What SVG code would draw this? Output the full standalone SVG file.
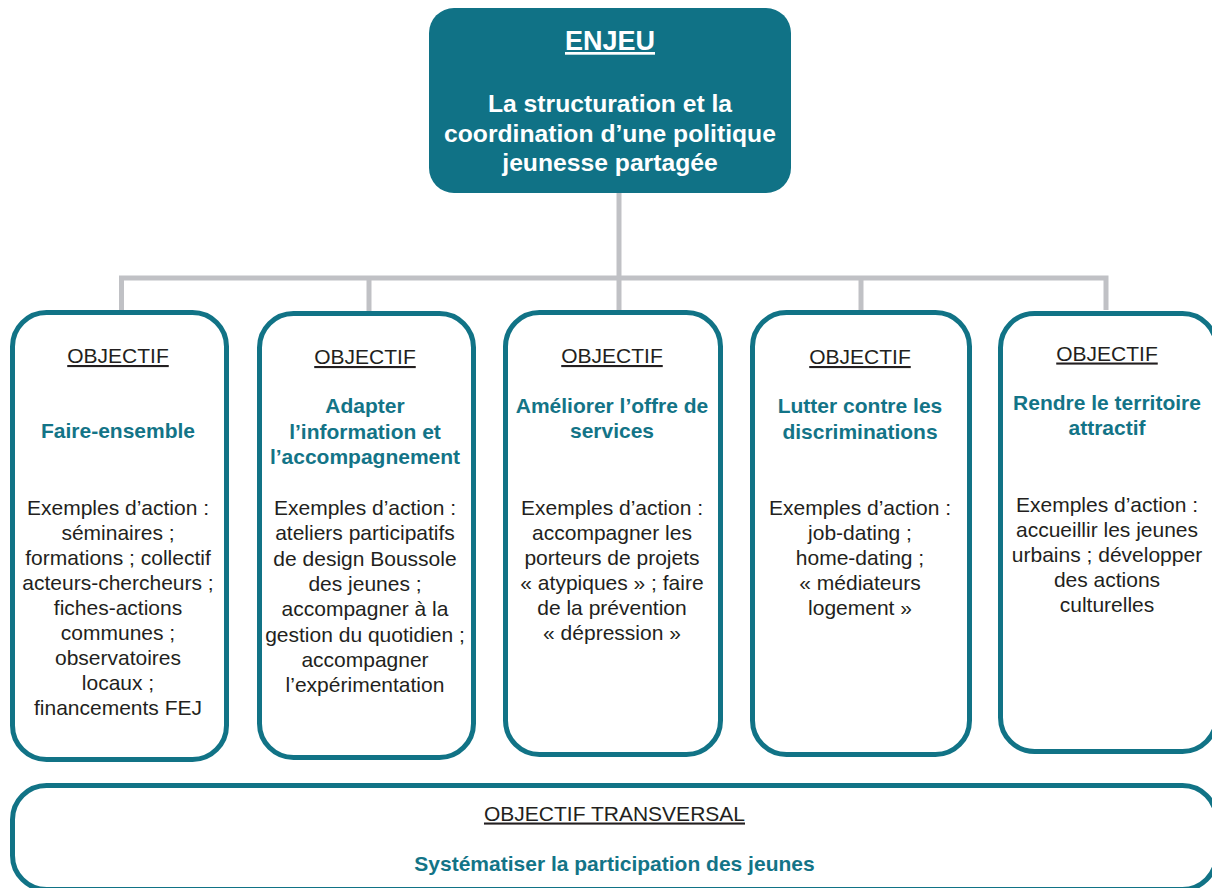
<svg xmlns="http://www.w3.org/2000/svg" width="1212" height="888" viewBox="0 0 1212 888">
<style>
.box{fill:#ffffff;stroke:#117386;stroke-width:5}
.conn{fill:none;stroke:#c0c1c5;stroke-width:5}
text{font-family:"Liberation Sans",Arial,sans-serif;text-anchor:middle}
.lbl{font-size:21px;fill:#231f20;text-decoration:underline}
.ttl{font-size:21px;font-weight:bold;fill:#137487}
.body{font-size:21px;fill:#231f20}
.top{font-weight:bold;fill:#ffffff}
</style>
<rect width="1212" height="888" fill="#ffffff"/>
<g id="connectors">
<path class="conn" d="M619 193 V278"/>
<path class="conn" d="M121.5 310 V278 H1106 V310"/>
<path class="conn" d="M369 311 V278"/>
<path class="conn" d="M619 310 V278"/>
<path class="conn" d="M861 310 V278"/>
</g>
<g id="enjeu">
<rect x="429" y="8" width="362" height="185" rx="25" fill="#107286"/>
<text class="top" x="610" y="50" font-size="27" text-decoration="underline">ENJEU</text>
<text class="top" font-size="24.7"><tspan x="610" y="112">La structuration et la</tspan><tspan x="610" y="141.5">coordination d’une politique</tspan><tspan x="610" y="171">jeunesse partagée</tspan></text>
</g>
<g id="obj1">
<rect class="box" x="12.5" y="312.5" width="214" height="447" rx="34"/>
<text class="lbl" x="118" y="363">OBJECTIF</text>
<text class="ttl" x="118" y="438">Faire-ensemble</text>
<text class="body"><tspan x="118" y="515">Exemples d’action :</tspan><tspan x="118" y="540">séminaires ;</tspan><tspan x="118" y="565">formations ; collectif</tspan><tspan x="118" y="590">acteurs-chercheurs ;</tspan><tspan x="118" y="615">fiches-actions</tspan><tspan x="118" y="640">communes ;</tspan><tspan x="118" y="665">observatoires</tspan><tspan x="118" y="690">locaux ;</tspan><tspan x="118" y="715">financements FEJ</tspan></text>
</g>
<g id="obj2">
<rect class="box" x="259.5" y="313.5" width="214" height="444" rx="34"/>
<text class="lbl" x="365" y="364">OBJECTIF</text>
<text class="ttl"><tspan x="365" y="413">Adapter</tspan><tspan x="365" y="439">l’information et</tspan><tspan x="365" y="464">l’accompagnement</tspan></text>
<text class="body"><tspan x="365" y="515">Exemples d’action :</tspan><tspan x="365" y="540.3">ateliers participatifs</tspan><tspan x="365" y="565.6">de design Boussole</tspan><tspan x="365" y="590.9">des jeunes ;</tspan><tspan x="365" y="616.2">accompagner à la</tspan><tspan x="365" y="641.5">gestion du quotidien ;</tspan><tspan x="365" y="666.8">accompagner</tspan><tspan x="365" y="692">l’expérimentation</tspan></text>
</g>
<g id="obj3">
<rect class="box" x="505.5" y="312.5" width="215" height="442" rx="34"/>
<text class="lbl" x="612" y="363">OBJECTIF</text>
<text class="ttl"><tspan x="612" y="413">Améliorer l’offre de</tspan><tspan x="612" y="438">services</tspan></text>
<text class="body"><tspan x="612" y="515">Exemples d’action :</tspan><tspan x="612" y="540">accompagner les</tspan><tspan x="612" y="565">porteurs de projets</tspan><tspan x="612" y="590">« atypiques » ; faire</tspan><tspan x="612" y="615">de la prévention</tspan><tspan x="612" y="640">« dépression »</tspan></text>
</g>
<g id="obj4">
<rect class="box" x="752.5" y="312.5" width="217" height="442" rx="34"/>
<text class="lbl" x="860" y="364">OBJECTIF</text>
<text class="ttl"><tspan x="860" y="413">Lutter contre les</tspan><tspan x="860" y="439">discriminations</tspan></text>
<text class="body"><tspan x="860" y="515">Exemples d’action :</tspan><tspan x="860" y="540">job-dating ;</tspan><tspan x="860" y="565">home-dating ;</tspan><tspan x="860" y="590">« médiateurs</tspan><tspan x="860" y="615">logement »</tspan></text>
</g>
<g id="obj5">
<rect class="box" x="1000.5" y="313.5" width="216" height="438" rx="34"/>
<text class="lbl" x="1107" y="360.5">OBJECTIF</text>
<text class="ttl"><tspan x="1107" y="410">Rendre le territoire</tspan><tspan x="1107" y="434.5">attractif</tspan></text>
<text class="body"><tspan x="1107" y="511.5">Exemples d’action :</tspan><tspan x="1107" y="536.5">accueillir les jeunes</tspan><tspan x="1107" y="561.5">urbains ; développer</tspan><tspan x="1107" y="586.5">des actions</tspan><tspan x="1107" y="611.5">culturelles</tspan></text>
</g>
<g id="transversal">
<rect class="box" x="12.5" y="785.5" width="1204" height="104" rx="34"/>
<text class="lbl" x="614.5" y="820.5">OBJECTIF TRANSVERSAL</text>
<text class="ttl" x="614.5" y="871">Systématiser la participation des jeunes</text>
</g>
</svg>
